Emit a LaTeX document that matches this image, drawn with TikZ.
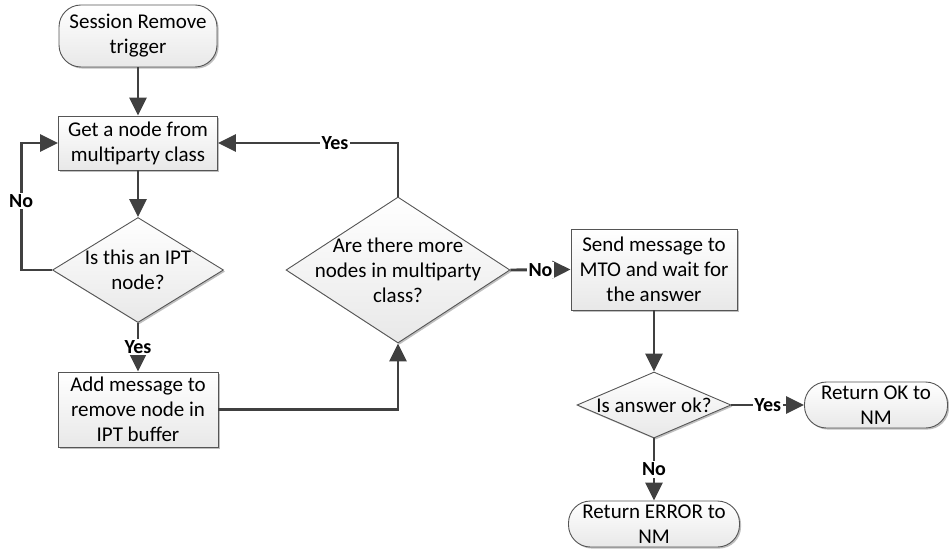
\documentclass[tikz,border=0pt]{standalone}
\usepackage{fontspec}
\setmainfont{Carlito}
\usetikzlibrary{arrows.meta,shapes.geometric,shadows}

\definecolor{linegray}{HTML}{404040}
\definecolor{edgegray}{HTML}{555555}

\tikzset{
  shapebase/.style={draw=edgegray, line width=0.9pt,
    top color=white, bottom color=black!9,
    drop shadow={shadow xshift=1.6pt, shadow yshift=-1.6pt, opacity=0.25, fill=black},
    inner sep=0pt, align=center, font=\fontsize{21}{25}\selectfont},
  process/.style={shapebase, rectangle},
  terminal/.style={shapebase, rectangle, rounded corners=22pt},
  decision/.style={shapebase, diamond},
  dtext/.style={align=center, font=\fontsize{21}{25}\selectfont},
  flow/.style={draw=linegray, line width=2.9pt,
    -{Triangle[length=18pt,width=17pt]}, color=linegray},
  lbl/.style={fill=white, inner sep=1.5pt, text=black,
    font=\fontsize{20}{24}\selectfont\bfseries},
}

\begin{document}
\begin{tikzpicture}[x=1pt, y=-1pt]
\useasboundingbox (0,0) rectangle (949,556);

% Left column
\node[terminal, minimum width=158, minimum height=62] (start) at (138,36)
  {Session Remove\\trigger};
\node[process, minimum width=159, minimum height=54] (getnode) at (138,143)
  {Get a node from\\multiparty class};
\node[decision, minimum width=171, minimum height=105] (isipt) at (138,270) {};
\node[dtext] (isipttxt) at (138,270) {Is this an IPT\\node?};
\node[process, minimum width=160, minimum height=75] (addmsg) at (138,409.5)
  {Add message to\\remove node in\\IPT buffer};

% Middle decision
\node[decision, minimum width=224, minimum height=146] (more) at (398,270) {};
\node[dtext] (moretxt) at (398,270) {Are there more\\nodes in multiparty\\class?};

% Right column
\node[process, minimum width=166, minimum height=81] (send) at (654,269.5)
  {Send message to\\MTO and wait for\\the answer};
\node[decision, minimum width=154, minimum height=66] (isok) at (654,405) {};
\node[dtext] (isoktxt) at (654,405) {Is answer ok?};
\node[terminal, minimum width=143, minimum height=46] (retok) at (876,405)
  {Return OK to\\NM};
\node[terminal, minimum width=171, minimum height=46] (reterr) at (654,524)
  {Return ERROR to\\NM};

% Connectors
\draw[flow] (start) -- (getnode);
\draw[flow] (getnode) -- (isipt);
\draw[flow] (isipt.west) -- ++(-31,0) |- node[lbl, pos=0.27] {No} (getnode.west);
\draw[flow] (isipt.south) -- node[lbl] {Yes} (addmsg.north);
\draw[flow] (addmsg.east) -| (more.south);
\draw[flow] (more.north) |- node[lbl, pos=0.675] {Yes} (getnode.east);
\draw[flow] (more.east) -- node[lbl] {No} (send.west);
\draw[flow] (send.south) -- (isok.north);
\draw[flow] (isok.east) -- node[lbl] {Yes} (retok.west);
\draw[flow] (isok.south) -- node[lbl] {No} (reterr.north);
\end{tikzpicture}
\end{document}
